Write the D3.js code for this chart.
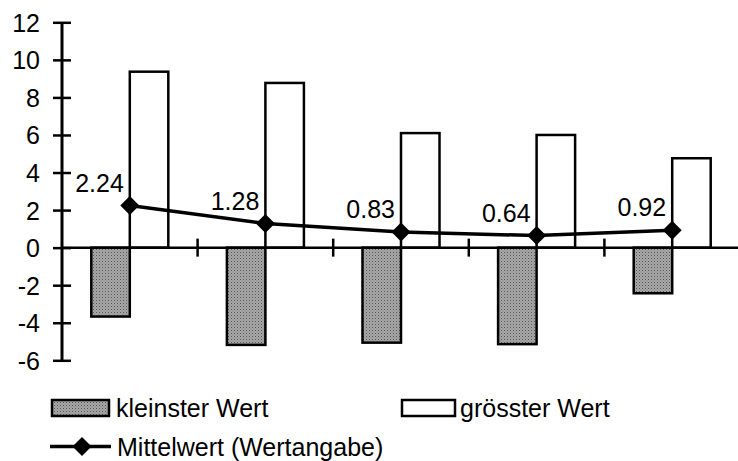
<!DOCTYPE html>
<html><head><meta charset="utf-8">
<script src="https://cdn.jsdelivr.net/npm/d3@7"></script>
<style>body{margin:0;background:#fff}svg{display:block}text{font-family:"Liberation Sans",Arial,sans-serif}</style>
</head><body><svg id="c" width="738" height="461"></svg>
<script>
const categories = ["A","B","C","D","E"];
const minValues = [-3.67, -5.18, -5.06, -5.14, -2.43];
const maxValues = [9.37, 8.77, 6.1, 6.0, 4.76];
const meanValues = [2.24, 1.28, 0.83, 0.64, 0.92];
const yTicks = [-6,-4,-2,0,2,4,6,8,10,12];
const legendLabels = ["kleinster Wert","grösster Wert","Mittelwert (Wertangabe)"];

const svg = d3.select("#c");
const defs = svg.append("defs");
const pat = defs.append("pattern").attr("id","dots").attr("width",3).attr("height",3).attr("patternUnits","userSpaceOnUse");
pat.append("rect").attr("width",3).attr("height",3).attr("fill","#a8a8a8");
pat.append("rect").attr("x",0).attr("y",0).attr("width",1).attr("height",1).attr("fill","#555");
pat.append("rect").attr("x",1.5).attr("y",1.5).attr("width",1).attr("height",1).attr("fill","#777");

const x = d3.scaleBand().domain(categories).range([62, 740]).paddingInner(0).paddingOuter(0);
const y = d3.scaleLinear().domain([-6, 12]).range([360.3, 22.3]);
const bw = x.bandwidth() * 0.284;
const fs = 25;

// bars
svg.selectAll(".minb").data(categories).join("rect")
  .attr("x", c => x(c) + x.bandwidth()/2 - bw)
  .attr("y", y(0))
  .attr("width", bw)
  .attr("height", (c,i) => y(minValues[i]) - y(0))
  .attr("fill","url(#dots)").attr("stroke","#000").attr("stroke-width",2.5);
svg.selectAll(".maxb").data(categories).join("rect")
  .attr("x", c => x(c) + x.bandwidth()/2)
  .attr("y", (c,i) => y(maxValues[i]))
  .attr("width", bw)
  .attr("height", (c,i) => y(0) - y(maxValues[i]))
  .attr("fill","#fff").attr("stroke","#000").attr("stroke-width",2.5);

// x axis line and boundary ticks
svg.append("line").attr("x1",62).attr("x2",740).attr("y1",y(0)).attr("y2",y(0)).attr("stroke","#000").attr("stroke-width",2.5);
svg.selectAll(".xt").data(categories.slice(1)).join("line")
  .attr("x1", c => x(c)).attr("x2", c => x(c))
  .attr("y1", y(0) - 9).attr("y2", y(0) + 9)
  .attr("stroke","#000").attr("stroke-width",2.5);

// y axis
const gy = svg.append("g").attr("transform","translate(62,0)")
  .call(d3.axisLeft(y).tickValues(yTicks).tickSize(9).tickPadding(13).tickFormat(d => String(d)));
svg.append("g").attr("transform","translate(62,0)")
  .call(d3.axisRight(y).tickValues(yTicks).tickSize(9).tickFormat(""))
  .call(g => g.select(".domain").remove());
svg.selectAll(".tick line").attr("stroke","#000").attr("stroke-width",2.5);
gy.select(".domain").attr("stroke","#000").attr("stroke-width",3).attr("d","M0," + y(12) + "V" + y(-6));
gy.selectAll("text").attr("font-size",fs).attr("fill","#000").style("font-family","'Liberation Sans',Arial,sans-serif").attr("dy","0.36em");

// mean line
const cx = c => x(c) + x.bandwidth()/2;
const line = d3.line().x((d,i) => cx(categories[i])).y(d => y(d));
svg.append("path").datum(meanValues).attr("d", line).attr("fill","none").attr("stroke","#000").attr("stroke-width",3.5);
const dia = "M0,-9.5L9.5,0L0,9.5L-9.5,0Z";
svg.selectAll(".mk").data(meanValues).join("path")
  .attr("d", dia)
  .attr("transform",(d,i) => `translate(${cx(categories[i])},${y(d)})`)
  .attr("fill","#000");
svg.selectAll(".lbl").data(meanValues).join("text")
  .attr("x",(d,i) => cx(categories[i]) - 6)
  .attr("y", d => y(d) - 14)
  .attr("text-anchor","end").attr("font-size",fs).attr("fill","#000")
  .text(d => d.toFixed(2));

// legend
svg.append("rect").attr("x",52).attr("y",400).attr("width",57).attr("height",16).attr("fill","url(#dots)").attr("stroke","#000").attr("stroke-width",2.5);
svg.append("text").attr("x",116).attr("y",408).attr("dy","0.36em").attr("font-size",fs).text(legendLabels[0]);
svg.append("rect").attr("x",402).attr("y",400).attr("width",53).attr("height",16).attr("fill","#fff").attr("stroke","#000").attr("stroke-width",2.5);
svg.append("text").attr("x",460).attr("y",408).attr("dy","0.36em").attr("font-size",fs).text(legendLabels[1]);
svg.append("line").attr("x1",50).attr("x2",111).attr("y1",446.5).attr("y2",446.5).attr("stroke","#000").attr("stroke-width",3.5);
svg.append("path").attr("d",dia).attr("transform","translate(82,446.5)").attr("fill","#000");
svg.append("text").attr("x",117).attr("y",446.5).attr("dy","0.36em").attr("font-size",fs).text(legendLabels[2]);
</script></body></html>
